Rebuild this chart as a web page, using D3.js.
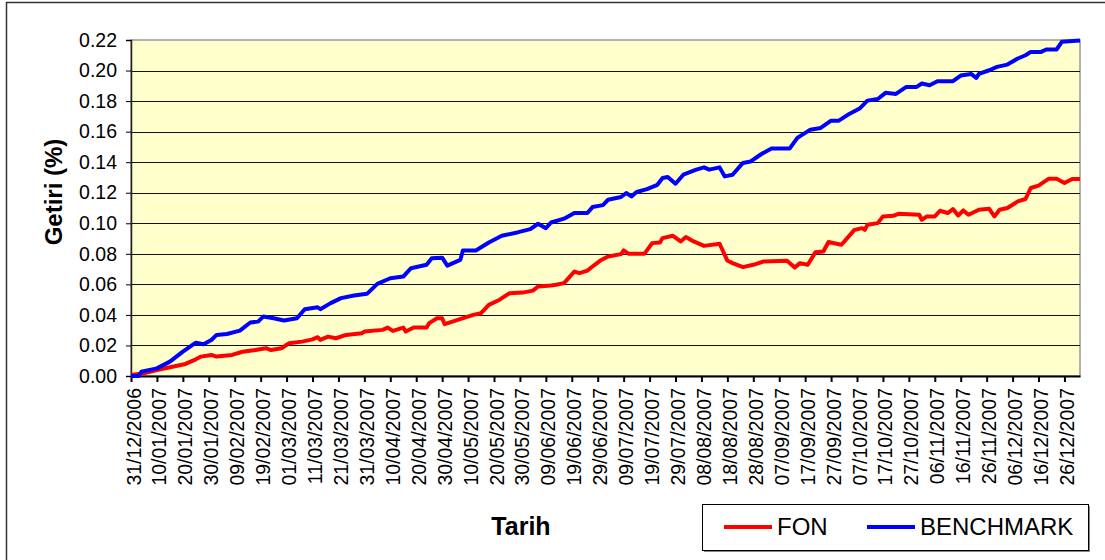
<!DOCTYPE html>
<html>
<head>
<meta charset="utf-8">
<script src="https://cdn.jsdelivr.net/npm/d3@7"></script>
<style>
  body { margin: 0; background: #fff; }
  svg { display: block; font-family: "Liberation Sans", Arial, sans-serif; }
</style>
</head>
<body>
<svg id="chart" width="1105" height="560"></svg>
<script>
// days counted from 31/12/2006
var fonDay = [0, 5, 10, 16, 21, 25, 27, 31, 33, 39, 43, 48, 52, 54, 58, 61, 66, 70, 72, 73, 76, 79, 83, 89, 90,
  97, 99, 101, 105, 106, 109, 114, 115, 118, 120, 121, 126, 132, 135, 138, 142, 146, 151, 155, 157, 162, 164,
  167, 171, 173, 176, 178, 181, 184, 189, 190, 192, 198, 201, 204, 205, 209, 212, 214, 217, 221, 227, 230,
  232, 236, 240, 244, 253, 256, 258, 261, 264, 267, 269, 274, 279, 282, 283, 284, 288, 290, 294, 296, 304,
  305, 307, 310, 312, 315, 317, 319, 321, 323, 327, 331, 333, 335, 338, 342, 345, 347, 350, 354, 357, 360,
  363, 366];
var fonValue = [0.0007, 0.0018, 0.0039, 0.0061, 0.0079, 0.0109, 0.0127, 0.0138, 0.0127, 0.0138, 0.0159,
  0.0170, 0.0182, 0.0170, 0.0182, 0.0214, 0.0225, 0.0240, 0.0254, 0.0236, 0.0258, 0.0247, 0.0269, 0.0280,
  0.0291, 0.0302, 0.0317, 0.0295, 0.0317, 0.0291, 0.0317, 0.0317, 0.0346, 0.0378, 0.0378, 0.0339, 0.0367,
  0.0400, 0.0411, 0.0466, 0.0498, 0.0542, 0.0546, 0.0559, 0.0586, 0.0592, 0.0597, 0.0608, 0.0684, 0.0673,
  0.0690, 0.0717, 0.0756, 0.0782, 0.0798, 0.0822, 0.0800, 0.0800, 0.0870, 0.0874, 0.0903, 0.0918, 0.0881,
  0.0910, 0.0881, 0.0852, 0.0866, 0.0756, 0.0739, 0.0713, 0.0728, 0.0750, 0.0754, 0.0710, 0.0739, 0.0728,
  0.0811, 0.0815, 0.0877, 0.0859, 0.0957, 0.0968, 0.0957, 0.0990, 0.1001, 0.1045, 0.1049, 0.1062, 0.1056,
  0.1023, 0.1045, 0.1045, 0.1082, 0.1067, 0.1093, 0.1051, 0.1084, 0.1056, 0.1089, 0.1095, 0.1045, 0.1089,
  0.1100, 0.1143, 0.1159, 0.1231, 0.1246, 0.1292, 0.1292, 0.1264, 0.1290, 0.1290];

var benchDay = [0, 3, 4, 10, 15, 20, 25, 28, 31, 33, 37, 42, 46, 49, 51, 55, 59, 64, 67, 72, 73, 77, 81, 86,
  91, 95, 100, 105, 108, 114, 116, 120, 122, 127, 128, 133, 138, 143, 149, 154, 157, 160, 162, 167, 171, 176,
  178, 182, 184, 189, 191, 193, 195, 199, 203, 205, 207, 210, 213, 218, 221, 223, 227, 229, 232, 236, 239,
  243, 247, 254, 257, 262, 266, 270, 273, 277, 281, 284, 288, 291, 295, 299, 303, 305, 308, 311, 317, 320,
  324, 326, 327, 331, 334, 338, 342, 345, 347, 351, 353, 357, 359, 366];
var benchValue = [0.0000, 0.0000, 0.0028, 0.0050, 0.0094, 0.0160, 0.0218, 0.0208, 0.0236, 0.0269, 0.0275,
  0.0297, 0.0350, 0.0356, 0.0389, 0.0378, 0.0363, 0.0378, 0.0437, 0.0450, 0.0437, 0.0477, 0.0510, 0.0527,
  0.0538, 0.0603, 0.0640, 0.0651, 0.0706, 0.0728, 0.0771, 0.0775, 0.0723, 0.0760, 0.0822, 0.0822, 0.0874,
  0.0918, 0.0940, 0.0962, 0.0997, 0.0968, 0.1005, 0.1030, 0.1067, 0.1067, 0.1106, 0.1119, 0.1154, 0.1172,
  0.1198, 0.1176, 0.1205, 0.1224, 0.1252, 0.1296, 0.1303, 0.1259, 0.1318, 0.1351, 0.1366, 0.1351, 0.1366,
  0.1307, 0.1318, 0.1395, 0.1405, 0.1452, 0.1489, 0.1489, 0.1559, 0.1613, 0.1624, 0.1672, 0.1672, 0.1716,
  0.1751, 0.1803, 0.1814, 0.1854, 0.1847, 0.1893, 0.1893, 0.1915, 0.1904, 0.1930, 0.1930, 0.1967, 0.1978,
  0.1952, 0.1978, 0.2002, 0.2024, 0.2039, 0.2079, 0.2100, 0.2122, 0.2122, 0.2138, 0.2138, 0.2188, 0.2197];

var yTicks = [0, 0.02, 0.04, 0.06, 0.08, 0.10, 0.12, 0.14, 0.16, 0.18, 0.20, 0.22];
var xTickDays = d3.range(0, 361, 10);

var seriesNames = ['FON', 'BENCHMARK'];
var seriesColors = ['#ff0000', '#0000ff'];

var start = new Date(2006, 11, 31);
var dayToDate = function(d) { return d3.timeDay.offset(start, d); };

var plotLeft = 131, plotRight = 1080, plotTop = 40, plotBottom = 376;

var svg = d3.select('#chart');

var x = d3.scaleTime()
  .domain([start, dayToDate(366)])
  .range([plotLeft, plotRight]);

var y = d3.scaleLinear()
  .domain([0, 0.22])
  .range([plotBottom, plotTop]);

// outer frame
svg.append('rect')
  .attr('x', 6.5).attr('y', 2.5)
  .attr('width', 1110).attr('height', 570)
  .attr('fill', 'none')
  .attr('stroke', '#333')
  .attr('stroke-width', 1.5);

// plot background
svg.append('rect')
  .attr('x', plotLeft).attr('y', plotTop)
  .attr('width', plotRight - plotLeft).attr('height', plotBottom - plotTop)
  .attr('fill', '#ffffcc')
  .attr('stroke', '#999')
  .attr('stroke-width', 1.5);

// gridlines
svg.append('g')
  .selectAll('line')
  .data(yTicks.slice(1, -1))
  .enter().append('line')
  .attr('x1', plotLeft).attr('x2', plotRight)
  .attr('y1', (d) => Math.round(y(d)) + 0.5)
  .attr('y2', (d) => Math.round(y(d)) + 0.5)
  .attr('stroke', '#111')
  .attr('stroke-width', 1);

// y axis
var yAxis = d3.axisLeft(y)
  .tickValues(yTicks)
  .tickFormat(d3.format('.2f'))
  .tickSize(5)
  .tickPadding(9);

var gy = svg.append('g')
  .attr('transform', 'translate(' + plotLeft + ',0)')
  .call(yAxis);
gy.select('.domain').attr('stroke', '#222').attr('stroke-width', 1.5);
gy.selectAll('.tick line').attr('stroke', '#000');
gy.selectAll('text')
  .attr('font-size', '19.5px')
  .attr('font-family', '"Liberation Sans", Arial, sans-serif')
  .attr('fill', '#000');

// x axis
var xAxis = d3.axisBottom(x)
  .tickValues(xTickDays.map(dayToDate))
  .tickFormat(d3.timeFormat('%d/%m/%Y'))
  .tickSize(6)
  .tickSizeOuter(0);

var gx = svg.append('g')
  .attr('transform', 'translate(0,' + plotBottom + ')')
  .call(xAxis);
gx.select('.domain').attr('stroke', '#000').attr('stroke-width', 2);
gx.selectAll('.tick line').attr('stroke', '#000').attr('stroke-width', 2);
gx.selectAll('text')
  .attr('font-size', '19.5px')
  .attr('font-family', '"Liberation Sans", Arial, sans-serif')
  .attr('fill', '#000')
  .attr('text-anchor', 'end')
  .attr('transform', 'rotate(-90)')
  .attr('x', -12)
  .attr('y', 2)
  .attr('dy', '0.36em');

// series
var fonData = fonDay.map((d, i) => ({ day: d, value: fonValue[i] }));
var benchData = benchDay.map((d, i) => ({ day: d, value: benchValue[i] }));

var line = d3.line()
  .x((d) => x(dayToDate(d.day)))
  .y((d) => y(d.value));

[fonData, benchData].forEach((data, i) => {
  svg.append('path')
    .datum(data)
    .attr('d', line)
    .attr('fill', 'none')
    .attr('stroke', seriesColors[i])
    .attr('stroke-width', 4)
    .attr('stroke-linejoin', 'round');
});

// axis titles
svg.append('text')
  .attr('transform', 'translate(62,192) rotate(-90)')
  .attr('text-anchor', 'middle')
  .attr('font-size', '24px')
  .attr('font-weight', 'bold')
  .text('Getiri (%)');

svg.append('text')
  .attr('x', 521)
  .attr('y', 535)
  .attr('text-anchor', 'middle')
  .attr('font-size', '25px')
  .attr('font-weight', 'bold')
  .text('Tarih');

// legend
var legend = svg.append('g');
legend.append('rect')
  .attr('x', 704).attr('y', 506)
  .attr('width', 386).attr('height', 46)
  .attr('fill', '#888');
legend.append('rect')
  .attr('x', 702.5).attr('y', 504.5)
  .attr('width', 386).attr('height', 46)
  .attr('fill', '#fff')
  .attr('stroke', '#000')
  .attr('stroke-width', 1);

var legendX = [724, 867];
seriesNames.forEach((name, i) => {
  legend.append('line')
    .attr('x1', legendX[i]).attr('x2', legendX[i] + 48)
    .attr('y1', 527).attr('y2', 527)
    .attr('stroke', seriesColors[i])
    .attr('stroke-width', 4);
  legend.append('text')
    .attr('x', legendX[i] + 53)
    .attr('y', 535)
    .attr('font-size', '24px')
    .text(name);
});
</script>
</body>
</html>
